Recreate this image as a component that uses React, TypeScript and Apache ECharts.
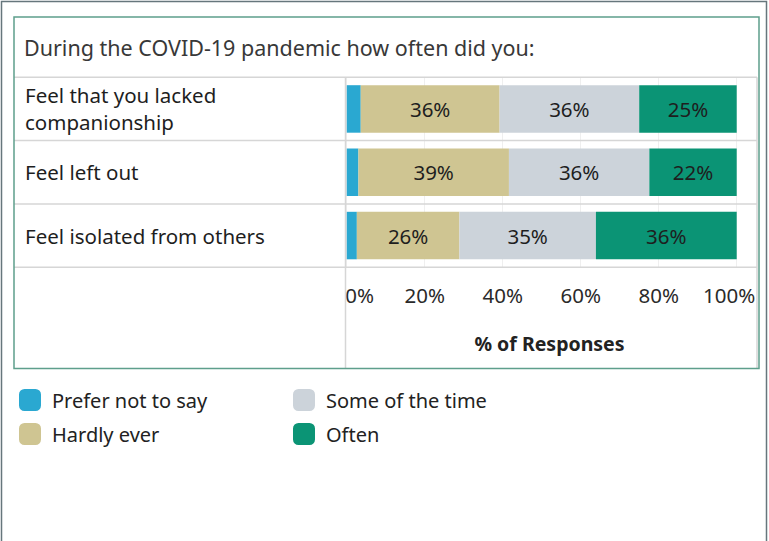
import React, { useEffect, useRef } from "react";
import * as echarts from "echarts";

const categories = [
  "Feel that you lacked\ncompanionship",
  "Feel left out",
  "Feel isolated from others",
];
const seriesNames = ["Prefer not to say", "Hardly ever", "Some of the time", "Often"];
const preferNotToSay = [3.6, 3.0, 2.6];
const hardlyEver = [35.6, 38.6, 26.3];
const someOfTheTime = [35.8, 36.0, 35.0];
const often = [25.0, 22.4, 36.1];
const xTicks = [0, 20, 40, 60, 80, 100];
const titleText = "During the COVID-19 pandemic how often did you:";
const axisTitle = "% of Responses";

const colors = ["#2aa8d1", "#cfc592", "#ccd3da", "#0b9475"];
const FONT = "Noto Sans";

export default function App() {
  const ref = useRef<HTMLDivElement>(null);
  useEffect(() => {
    if (!ref.current) return;
    const chart = echarts.init(ref.current, null, { renderer: "svg" });
    const W = 769;
    const gridLeft = 346.7;
    const gridRight = 736.7;
    const gridTop = 77.3;
    const rowH = 63.3;
    const gridBottom = gridTop + rowH * categories.length;
    const frameL = 14, frameR = 759, frameT = 17, frameB = 368.5;
    const cellR = 757;
    const lineStyle = { stroke: "#d6d6d6", lineWidth: 1.5 };
    const seriesData = [preferNotToSay, hardlyEver, someOfTheTime, often];
    const tickFont = { fontFamily: FONT, fontSize: 20.5, color: "#2a2a2a" };

    const rowLines = [];
    for (let i = 0; i <= categories.length; i++) {
      const y = gridTop + rowH * i;
      rowLines.push({
        type: "line",
        z: 101,
        shape: { x1: frameL, y1: y, x2: cellR, y2: y },
        style: lineStyle,
      });
    }

    const option = {
      animation: false,
      backgroundColor: "#ffffff",
      grid: {
        left: gridLeft,
        right: W - gridRight,
        top: gridTop,
        height: gridBottom - gridTop,
        containLabel: false,
      },
      xAxis: {
        type: "value",
        min: 0,
        max: 100,
        interval: 20,
        axisLine: { show: false },
        axisTick: { show: false },
        splitLine: { show: true, lineStyle: { color: "#efefef", width: 1 } },
        axisLabel: {
          formatter: (v: number) => {
            if (!xTicks.includes(v)) return "";
            if (v === xTicks[0]) return "{first|" + v + "%}";
            if (v === xTicks[xTicks.length - 1]) return "{last|" + v + "%}";
            return v + "%";
          },
          ...tickFont,
          margin: 17,
          rich: {
            first: { ...tickFont, padding: [0, 0, 0, 26] },
            last: { ...tickFont, padding: [0, 15, 0, 0] },
          },
        },
      },
      yAxis: {
        type: "category",
        inverse: true,
        data: categories,
        axisLine: { show: false },
        axisTick: { show: false },
        splitLine: { show: false },
        axisLabel: {
          align: "left",
          margin: gridLeft - 25,
          fontFamily: FONT,
          fontSize: 20.5,
          lineHeight: 27,
          color: "#1e1e1e",
        },
      },
      legend: [
        {
          orient: "vertical",
          left: 19,
          top: 389,
          padding: 0,
          itemWidth: 22,
          itemHeight: 22,
          itemGap: 12,
          icon: "roundRect",
          data: [seriesNames[0], seriesNames[1]],
          textStyle: { fontFamily: FONT, fontSize: 20, color: "#222", padding: [0, 0, 0, 6] },
        },
        {
          orient: "vertical",
          left: 293,
          top: 389,
          padding: 0,
          itemWidth: 22,
          itemHeight: 22,
          itemGap: 12,
          icon: "roundRect",
          data: [seriesNames[2], seriesNames[3]],
          textStyle: { fontFamily: FONT, fontSize: 20, color: "#222", padding: [0, 0, 0, 6] },
        },
      ],
      series: seriesNames.map((name, i) => ({
        name,
        type: "bar",
        stack: "total",
        barWidth: 47.5,
        data: seriesData[i],
        itemStyle: { color: colors[i] },
        label: {
          show: i > 0,
          position: "inside",
          formatter: (p: any) => Math.round(p.value) + "%",
          fontFamily: FONT,
          fontSize: 20.5,
          color: "#1e1e1e",
        },
      })),
      graphic: [
        {
          type: "rect",
          z: 100,
          shape: { x: frameL + 1, y: gridBottom + 2, width: 345.5 - frameL - 1, height: frameB - gridBottom - 3 },
          style: { fill: "#ffffff" },
        },
        {
          type: "rect",
          z: 100,
          shape: { x: cellR - 1.5, y: gridBottom + 2, width: 12, height: 50 },
          style: { fill: "#ffffff" },
        },
        ...rowLines,
        {
          type: "line",
          z: 101,
          shape: { x1: 345.5, y1: gridTop, x2: 345.5, y2: frameB },
          style: lineStyle,
        },
        {
          type: "line",
          z: 101,
          shape: { x1: cellR, y1: gridTop, x2: cellR, y2: frameB },
          style: lineStyle,
        },
        {
          type: "rect",
          z: 102,
          shape: { x: frameL, y: frameT, width: frameR - frameL, height: frameB - frameT },
          style: { fill: "none", stroke: "#5e9f8c", lineWidth: 1.5 },
        },
        {
          type: "rect",
          z: 102,
          shape: { x: 1.5, y: 1.5, width: 765, height: 560 },
          style: { fill: "none", stroke: "#66767c", lineWidth: 1.5 },
        },
        {
          type: "text",
          z: 103,
          x: 24,
          y: 47,
          style: {
            text: titleText,
            fontFamily: FONT,
            fontSize: 21.5,
            fill: "#383838",
            verticalAlign: "middle",
          },
        },
        {
          type: "text",
          z: 103,
          x: 549.5,
          y: 343,
          style: {
            text: axisTitle,
            fontFamily: FONT,
            fontSize: 19.5,
            fontWeight: "bold",
            fill: "#222",
            align: "center",
            verticalAlign: "middle",
          },
        },
      ],
    };
    chart.setOption(option as any);
    return () => chart.dispose();
  }, []);
  return (
    <div
      ref={ref}
      style={{ position: "absolute", left: 0, top: 0, width: 769, height: 541 }}
    />
  );
}
